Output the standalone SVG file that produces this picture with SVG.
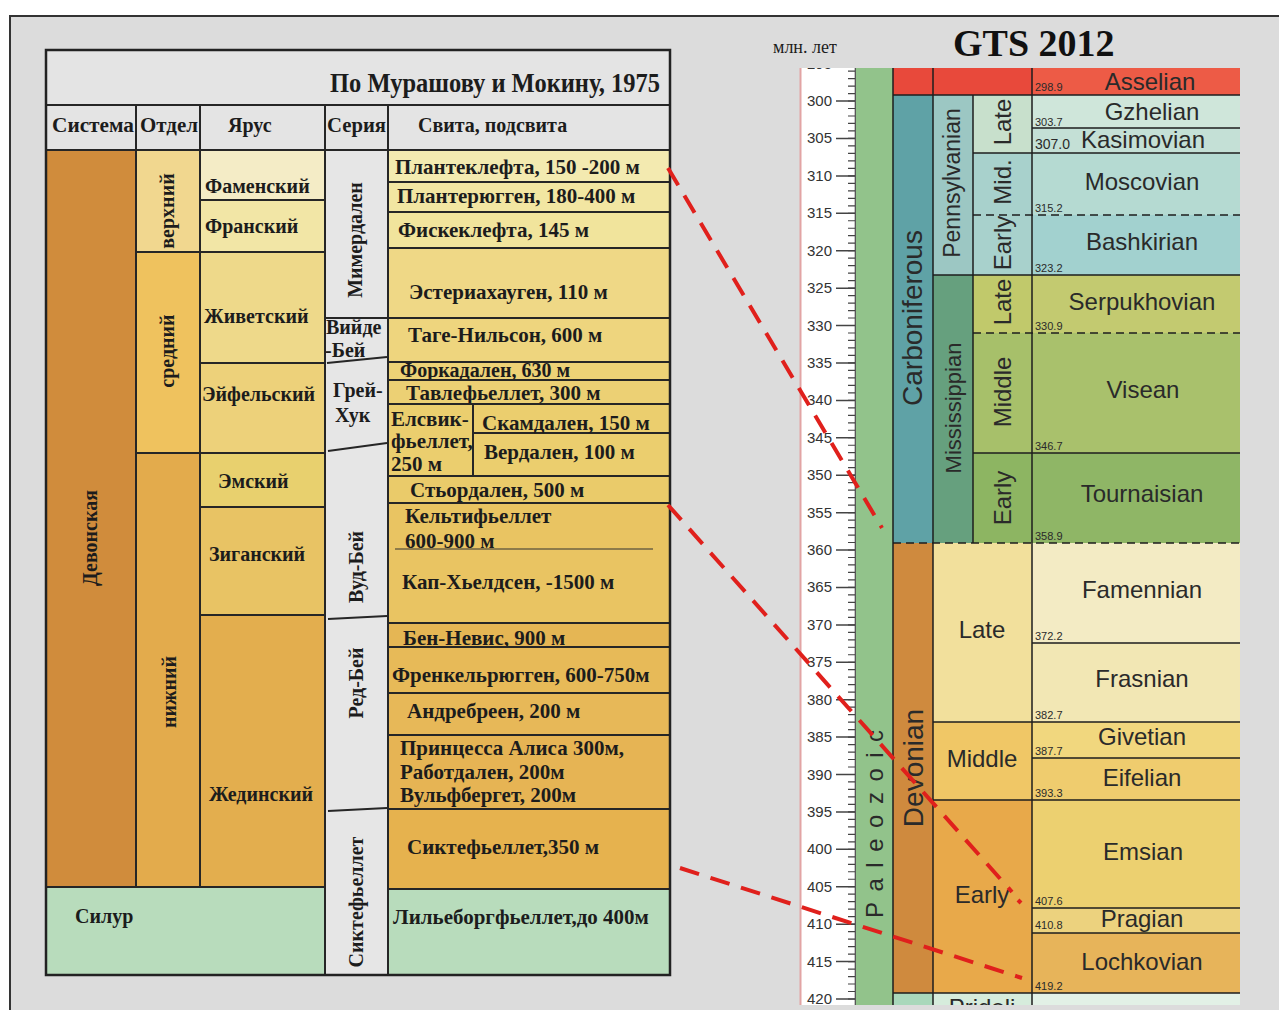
<svg xmlns="http://www.w3.org/2000/svg" width="1279" height="1010" viewBox="0 0 1279 1010">
<defs>
<style>
.c{stroke:#262626;stroke-width:2}
.t{font-family:"Liberation Serif",serif;font-weight:bold;font-size:20px;fill:#1c1c1c}
.v{font-size:21px}
.h{font-family:"Liberation Serif",serif;font-size:27px;fill:#1c1c1c}
.s{font-family:"Liberation Sans",Arial,sans-serif;fill:#2a2a2a}
.st{font-size:24px;text-anchor:middle}
.ag{font-size:11px}
.sc{font-size:15px;text-anchor:end;fill:#333}
.ln{stroke:#1e1e1e;stroke-width:1.5;fill:none}
.dl{stroke-dasharray:8 5}
.red{stroke:#e0201c;stroke-width:4;stroke-dasharray:20 12;fill:none}
</style>
<clipPath id="rc"><rect x="790" y="68" width="460" height="937"/></clipPath>
</defs>
<rect x="0" y="0" width="1279" height="1010" fill="#ffffff"/>
<rect x="10" y="16" width="1300" height="1100" fill="#dcdcdc" stroke="#333" stroke-width="2"/>

<!-- LEFT TABLE -->
<g id="header">
<rect class="c" x="46" y="50" width="624" height="55" fill="#e4e4e4"/>
<text class="h" x="660" y="92" text-anchor="end" font-weight="bold" textLength="330" lengthAdjust="spacingAndGlyphs">По Мурашову и Мокину, 1975</text>
<rect class="c" x="46" y="105" width="90" height="45" fill="#e4e4e4"/>
<rect class="c" x="136" y="105" width="64" height="45" fill="#e4e4e4"/>
<rect class="c" x="200" y="105" width="125" height="45" fill="#e4e4e4"/>
<rect class="c" x="325" y="105" width="63" height="45" fill="#e4e4e4"/>
<rect class="c" x="388" y="105" width="282" height="45" fill="#e4e4e4"/>
<text class="t" x="52" y="132" textLength="82" lengthAdjust="spacingAndGlyphs">Система</text>
<text class="t" x="140" y="132" textLength="58" lengthAdjust="spacingAndGlyphs">Отдел</text>
<text class="t" x="228" y="132">Ярус</text>
<text class="t" x="327" y="132" textLength="59" lengthAdjust="spacingAndGlyphs">Серия</text>
<text class="t" x="418" y="132">Свита, подсвита</text>
</g>

<g id="sistema">
<rect class="c" x="46" y="150" width="90" height="737" fill="#d08c3c"/>
<text class="t" transform="translate(97,538) rotate(-90)" text-anchor="middle" font-size="21">Девонская</text>
<rect class="c" x="46" y="887" width="279" height="88" fill="#b8dcbc"/>
<text class="t" x="75" y="923" font-size="21">Силур</text>
</g>

<g id="otdel">
<rect class="c" x="136" y="150" width="64" height="102" fill="#f1d78f"/>
<text class="t" transform="translate(174,211) rotate(-90)" text-anchor="middle">верхний</text>
<rect class="c" x="136" y="252" width="64" height="201" fill="#efc25e"/>
<text class="t" transform="translate(174,351) rotate(-90)" text-anchor="middle">средний</text>
<rect class="c" x="136" y="453" width="64" height="434" fill="#e3ab4c"/>
<text class="t" transform="translate(176,692) rotate(-90)" text-anchor="middle">нижний</text>
</g>

<g id="yarus">
<rect class="c" x="200" y="150" width="125" height="50" fill="#f4ecc6"/>
<text class="t" x="205" y="193">Фаменский</text>
<rect class="c" x="200" y="200" width="125" height="52" fill="#f2e6a6"/>
<text class="t" x="205" y="233">Франский</text>
<rect class="c" x="200" y="252" width="125" height="111" fill="#eed98a"/>
<text class="t" x="204" y="323">Живетский</text>
<rect class="c" x="200" y="363" width="125" height="90" fill="#edd17a"/>
<text class="t" x="202" y="401">Эйфельский</text>
<rect class="c" x="200" y="453" width="125" height="54" fill="#e8d06e"/>
<text class="t" x="218" y="488">Эмский</text>
<rect class="c" x="200" y="507" width="125" height="108" fill="#e8c364"/>
<text class="t" x="209" y="561">Зиганский</text>
<rect class="c" x="200" y="615" width="125" height="272" fill="#e3ae4e"/>
<text class="t" x="209" y="801">Жединский</text>
</g>

<g id="seria">
<rect class="c" x="325" y="150" width="63" height="825" fill="#e6e6e6"/>
<text class="t" transform="translate(362,240) rotate(-90)" text-anchor="middle">Мимердален</text>
<text class="t" x="326" y="334">Вийде</text>
<text class="t" x="325" y="357">-Бей</text>
<text class="t" x="333" y="397">Грей-</text>
<text class="t" x="335" y="422">Хук</text>
<text class="t" transform="translate(363,567) rotate(-90)" text-anchor="middle">Вуд-Бей</text>
<text class="t" transform="translate(363,683) rotate(-90)" text-anchor="middle">Ред-Бей</text>
<text class="t" transform="translate(363,902) rotate(-90)" text-anchor="middle">Сиктефьеллет</text>
<path class="c" fill="none" d="M325 318H388M327 363L387 357M328 451L387 443M328 619L387 616M328 811L387 808"/>
</g>

<g id="svita">
<rect class="c" x="388" y="150" width="282" height="32" fill="#f3eab0"/>
<text class="t v" x="395" y="174">Плантеклефта, 150 -200 м</text>
<rect class="c" x="388" y="182" width="282" height="30" fill="#f2e6a2"/>
<text class="t v" x="397" y="203">Плантерюгген, 180-400 м</text>
<rect class="c" x="388" y="212" width="282" height="36" fill="#f1e49c"/>
<text class="t v" x="398" y="237">Фискеклефта, 145 м</text>
<rect class="c" x="388" y="248" width="282" height="70" fill="#efd886"/>
<text class="t v" x="409" y="299">Эстериахауген, 110 м</text>
<rect class="c" x="388" y="318" width="282" height="44" fill="#eed57e"/>
<text class="t v" x="408" y="342">Таге-Нильсон, 600 м</text>
<rect class="c" x="388" y="362" width="282" height="18" fill="#edd276"/>
<text class="t" x="400" y="377">Форкадален, 630 м</text>
<rect class="c" x="388" y="380" width="282" height="24" fill="#ecd074"/>
<text class="t v" x="406" y="400">Тавлефьеллет, 300 м</text>
<rect class="c" x="388" y="404" width="282" height="72" fill="#ebce6e"/>
<path class="c" fill="none" d="M473 404V476M473 433H670"/>
<text class="t v" x="391" y="426">Елсвик-</text>
<text class="t v" x="391" y="448">фьеллет,</text>
<text class="t v" x="391" y="471">250 м</text>
<text class="t v" x="482" y="430">Скамдален, 150 м</text>
<text class="t v" x="484" y="459">Вердален, 100 м</text>
<rect class="c" x="388" y="476" width="282" height="27" fill="#eacb6a"/>
<text class="t v" x="410" y="497">Стьордален, 500 м</text>
<rect class="c" x="388" y="503" width="282" height="120" fill="#e9c462"/>
<path d="M395 549H653" stroke="#333" stroke-width="1.2"/>
<text class="t v" x="405" y="523">Кельтифьеллет</text>
<text class="t v" x="405" y="548">600-900 м</text>
<text class="t v" x="402" y="589">Кап-Хьелдсен, -1500 м</text>
<rect class="c" x="388" y="623" width="282" height="24" fill="#e5b654"/>
<text class="t v" x="403" y="645">Бен-Невис, 900 м</text>
<rect class="c" x="388" y="647" width="282" height="46" fill="#e7ba58"/>
<text class="t v" x="392" y="682">Френкельрюгген, 600-750м</text>
<rect class="c" x="388" y="693" width="282" height="42" fill="#e7b858"/>
<text class="t v" x="407" y="718">Андребреен, 200 м</text>
<rect class="c" x="388" y="735" width="282" height="74" fill="#e6b454"/>
<text class="t v" x="400" y="755">Принцесса Алиса 300м,</text>
<text class="t v" x="400" y="779">Работдален, 200м</text>
<text class="t v" x="400" y="802">Вульфбергет, 200м</text>
<rect class="c" x="388" y="809" width="282" height="80" fill="#e6b24e"/>
<text class="t v" x="407" y="854">Сиктефьеллет,350 м</text>
<rect class="c" x="388" y="889" width="282" height="86" fill="#b8dcbc"/>
<text class="t v" x="393" y="924">Лильеборгфьеллет,до 400м</text>
</g>
<rect x="46" y="50" width="624" height="925" fill="none" stroke="#222" stroke-width="2.5"/>

<!-- RIGHT CHART -->
<text x="773" y="53" font-family="Liberation Serif,serif" font-size="18" fill="#1c1c1c">млн. лет</text>
<text x="953" y="56" font-family="Liberation Serif,serif" font-weight="bold" font-size="38" fill="#111">GTS 2012</text>

<g clip-path="url(#rc)">
<g id="scale">
<rect x="800" y="60" width="56" height="950" fill="#ffffff"/>
<line x1="800.5" y1="60" x2="800.5" y2="1010" stroke="#e2a4a4" stroke-width="2"/>
<line x1="851.5" y1="63.0" x2="851.5" y2="1010" stroke="#444" stroke-width="7" stroke-dasharray="1.2 6.283"/>
<line x1="845.5" y1="62.9" x2="845.5" y2="1010" stroke="#444" stroke-width="19" stroke-dasharray="1.5 35.915"/>
<line x1="855.3" y1="60" x2="855.3" y2="1010" stroke="#444" stroke-width="1.2"/>
<g class="s sc">
<text x="832" y="68.6">295</text>
<text x="832" y="106">300</text><text x="832" y="143.4">305</text><text x="832" y="180.8">310</text><text x="832" y="218.2">315</text><text x="832" y="255.7">320</text>
<text x="832" y="293.1">325</text><text x="832" y="330.5">330</text><text x="832" y="367.9">335</text><text x="832" y="405.3">340</text><text x="832" y="442.7">345</text>
<text x="832" y="480.2">350</text><text x="832" y="517.6">355</text><text x="832" y="555">360</text><text x="832" y="592.4">365</text><text x="832" y="629.8">370</text>
<text x="832" y="667.2">375</text><text x="832" y="704.6">380</text><text x="832" y="742.1">385</text><text x="832" y="779.5">390</text><text x="832" y="816.9">395</text>
<text x="832" y="854.3">400</text><text x="832" y="891.7">405</text><text x="832" y="929.1">410</text><text x="832" y="966.6">415</text><text x="832" y="1004">420</text>
</g>
</g>

<g id="era">
<rect x="856" y="60" width="37" height="950" fill="#92c38b"/>
<text class="s" transform="translate(883,918) rotate(-90)" font-size="24" letter-spacing="10.5">Paleozoic</text>
</g>

<g id="periods">
<rect x="893" y="60" width="40" height="35" fill="#e8493b"/>
<rect x="893" y="95" width="40" height="448" fill="#5fa2a6"/>
<rect x="893" y="543" width="40" height="450" fill="#cf8a3e"/>
<rect x="893" y="993" width="40" height="20" fill="#a9d8bb"/>
<text class="s" transform="translate(922,318) rotate(-90)" font-size="28" text-anchor="middle">Carboniferous</text>
<text class="s" transform="translate(923,768) rotate(-90)" font-size="28" text-anchor="middle">Devonian</text>
</g>

<g id="subperiods">
<rect x="933" y="60" width="99" height="35" fill="#e8493b"/>
<rect x="933" y="95" width="40" height="180" fill="#9cc7c3"/>
<rect x="933" y="275" width="40" height="268" fill="#66a07e"/>
<text class="s" transform="translate(960,183) rotate(-90)" font-size="23" text-anchor="middle">Pennsylvanian</text>
<text class="s" transform="translate(961,408) rotate(-90)" font-size="22" text-anchor="middle">Mississippian</text>
</g>

<g id="epochs">
<rect x="973" y="95" width="59" height="58" fill="#c8e0cc"/>
<rect x="973" y="153" width="59" height="122" fill="#a8d1cc"/>
<rect x="973" y="275" width="59" height="58" fill="#c1c96b"/>
<rect x="973" y="333" width="59" height="120" fill="#a7c06a"/>
<rect x="973" y="453" width="59" height="90" fill="#8db562"/>
<rect x="933" y="543" width="99" height="179" fill="#f2e09c"/>
<rect x="933" y="722" width="99" height="78" fill="#f0c766"/>
<rect x="933" y="800" width="99" height="193" fill="#e8a94a"/>
<rect x="933" y="993" width="99" height="20" fill="#d6ecdc"/>
<g class="s" font-size="24" text-anchor="middle">
<text transform="translate(1011,122) rotate(-90)">Late</text>
<text transform="translate(1011,182) rotate(-90)">Mid.</text>
<text transform="translate(1011,243) rotate(-90)">Early</text>
<text transform="translate(1011,302) rotate(-90)">Late</text>
<text transform="translate(1011,392) rotate(-90)">Middle</text>
<text transform="translate(1011,498) rotate(-90)">Early</text>
<text x="982" y="638">Late</text>
<text x="982" y="767">Middle</text>
<text x="982" y="903">Early</text>
<text x="982" y="1016">Pridoli</text>
</g>
</g>

<g id="stages">
<rect x="1032" y="60" width="208" height="35" fill="#ed5b46"/>
<rect x="1032" y="95" width="208" height="33" fill="#cfe6da"/>
<rect x="1032" y="128" width="208" height="25" fill="#c4e0d6"/>
<rect x="1032" y="153" width="208" height="62" fill="#b5dad2"/>
<rect x="1032" y="215" width="208" height="60" fill="#a2d1cf"/>
<rect x="1032" y="275" width="208" height="58" fill="#c3ca70"/>
<rect x="1032" y="333" width="208" height="120" fill="#a9c16c"/>
<rect x="1032" y="453" width="208" height="90" fill="#8fb666"/>
<rect x="1032" y="543" width="208" height="100" fill="#f3ebc4"/>
<rect x="1032" y="643" width="208" height="79" fill="#f2e7b4"/>
<rect x="1032" y="722" width="208" height="36" fill="#f1d77e"/>
<rect x="1032" y="758" width="208" height="42" fill="#efcc6e"/>
<rect x="1032" y="800" width="208" height="108" fill="#ecd070"/>
<rect x="1032" y="908" width="208" height="25" fill="#ecd27e"/>
<rect x="1032" y="933" width="208" height="60" fill="#e7b45a"/>
<rect x="1032" y="993" width="208" height="20" fill="#e2f1e6"/>
<g class="s st">
<text x="1150" y="90">Asselian</text>
<text x="1152" y="120">Gzhelian</text>
<text x="1143" y="148">Kasimovian</text>
<text x="1142" y="190">Moscovian</text>
<text x="1142" y="250">Bashkirian</text>
<text x="1142" y="310">Serpukhovian</text>
<text x="1143" y="398">Visean</text>
<text x="1142" y="502">Tournaisian</text>
<text x="1142" y="598">Famennian</text>
<text x="1142" y="687">Frasnian</text>
<text x="1142" y="745">Givetian</text>
<text x="1142" y="786">Eifelian</text>
<text x="1143" y="860">Emsian</text>
<text x="1142" y="927">Pragian</text>
<text x="1142" y="970">Lochkovian</text>
</g>
<g class="s ag">
<text x="1035" y="91">298.9</text>
<text x="1035" y="126">303.7</text>
<text x="1035" y="149" font-size="14">307.0</text>
<text x="1035" y="212">315.2</text>
<text x="1035" y="272">323.2</text>
<text x="1035" y="330">330.9</text>
<text x="1035" y="450">346.7</text>
<text x="1035" y="540">358.9</text>
<text x="1035" y="640">372.2</text>
<text x="1035" y="719">382.7</text>
<text x="1035" y="755">387.7</text>
<text x="1035" y="797">393.3</text>
<text x="1035" y="905">407.6</text>
<text x="1035" y="929">410.8</text>
<text x="1035" y="990">419.2</text>
</g>
</g>

<g id="chart-lines">
<path class="ln" d="M893 95H1240M1032 128H1240M973 153H1240M933 275H1240M973 453H1240M1032 643H1240M933 722H1240M1032 758H1240M933 800H1240M1032 908H1240M1032 933H1240M893 993H1240"/>
<path class="ln dl" d="M973 215H1240M973 333H1240M893 543H1240"/>
<path class="ln" d="M893 60V1010M933 60V1010M973 95V543M1032 60V1010"/>
</g>
</g>

<g id="connectors">
<line class="red" x1="668" y1="168" x2="882" y2="528"/>
<line class="red" x1="668" y1="505" x2="1012" y2="892"/>
<line x1="1018" y1="900" x2="1021" y2="903" stroke="#e0201c" stroke-width="4"/>
<line class="red" x1="680" y1="868" x2="1022" y2="978"/>
</g>
</svg>
